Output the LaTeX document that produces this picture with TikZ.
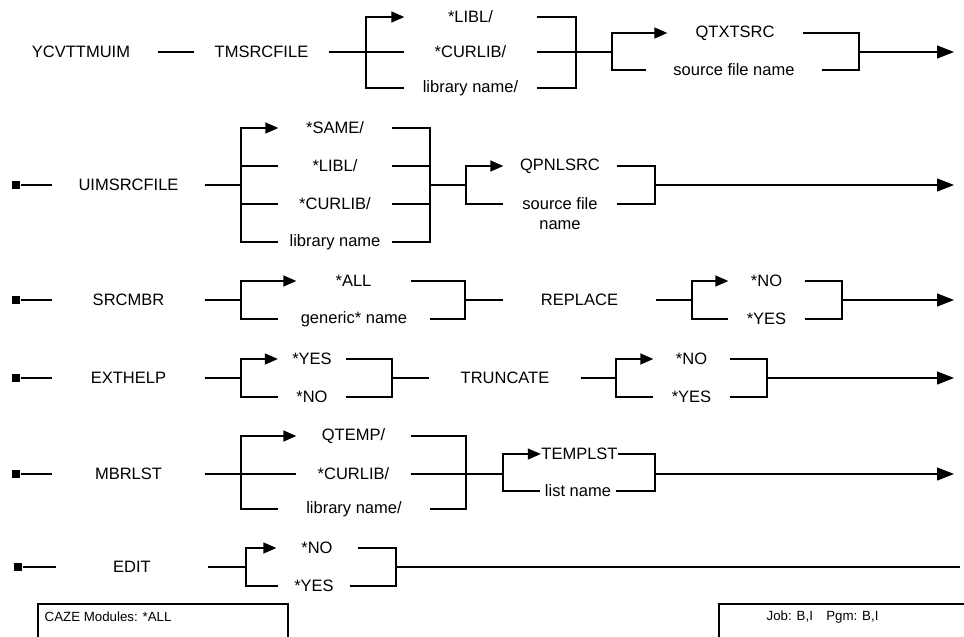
\documentclass[tikz,border=0pt]{standalone}
\usepackage{fontspec}
\setmainfont{Liberation Sans}
\usetikzlibrary{shapes,arrows.meta,positioning}

\begin{document}
\begin{tikzpicture}[x=1pt, y=-1pt, line width=1.3pt,
        word/.style={rectangle, inner sep=0pt, minimum height=20pt, align=center, font=\fontsize{16.5}{20}\selectfont},
        tiny/.style={inner sep=0pt, anchor=west, font=\fontsize{13.3}{15}\selectfont},
        stub/.style={rectangle, fill=black, minimum size=8.5pt, inner sep=0pt},
        arrow/.style={-{Triangle[length=13pt,width=11pt]}},
        bigarrow/.style={-{Triangle[length=17pt,width=13pt]}},
        frame/.style={draw, line width=2pt, minimum height=60pt, anchor=north west}
    ]
        \useasboundingbox (0,0) rectangle (964,637);
        \clip (0,0) rectangle (964,637);

        \node[word, minimum width=152pt] (ycv) at (81,52) {YCVTTMUIM};
        \node[word, minimum width=133pt] (tms) at (261.5,52) {TMSRCFILE};
        \coordinate (j1a) at (366,52);
        \node[word, minimum width=131pt] (libl1) at (470.5,17) {*LIBL/};
        \node[word, minimum width=131pt] (cur1) at (470.5,52) {*CURLIB/};
        \node[word, minimum width=131pt] (lib1) at (470.5,88) {library name/};
        \coordinate (j1b) at (576,52);
        \coordinate (j1c) at (612,52);
        \node[word, minimum width=134pt] (qtx) at (735,33) {QTXTSRC};
        \node[word, minimum width=174pt] (sfn1) at (734,70) {source file name};
        \coordinate (j1d) at (859,52);
        \coordinate (e1) at (954,52);
        \draw (ycv) -- (tms);
        \draw (tms) -- (cur1);
        \draw[arrow] (j1a) |- (libl1);
        \draw (j1a) |- (lib1);
        \draw (libl1) -| (j1b);
        \draw (lib1) -| (j1b);
        \draw (cur1) -- (j1c);
        \draw[arrow] (j1c) |- (qtx);
        \draw (j1c) |- (sfn1);
        \draw (qtx) -| (j1d);
        \draw (sfn1) -| (j1d);
        \draw[bigarrow] (j1d) -- (e1);

        \node[stub] (s2) at (16,185) {};
        \node[word, minimum width=151pt] (uim) at (128.5,185) {UIMSRCFILE};
        \coordinate (j2a) at (241,185);
        \node[word, minimum width=112pt] (same2) at (335,128) {*SAME/};
        \node[word, minimum width=112pt] (libl2) at (335,166) {*LIBL/};
        \node[word, minimum width=112pt] (cur2) at (335,204) {*CURLIB/};
        \node[word, minimum width=112pt] (lib2) at (335,242) {library name};
        \coordinate (j2b) at (430,185);
        \coordinate (j2c) at (466,185);
        \node[word, minimum width=112pt] (qpn) at (560,166) {QPNLSRC};
        \node[word, minimum width=112pt, anchor=north] (sfn2) at (560,197) {source file\\name};
        \coordinate (j2d) at (655,185);
        \coordinate (e2) at (954,185);
        \draw (s2) -- (uim);
        \draw (uim) -- (j2a);
        \draw[arrow] (j2a) |- (same2);
        \draw (j2a) |- (libl2);
        \draw (j2a) |- (cur2);
        \draw (j2a) |- (lib2);
        \draw (same2) -| (j2b);
        \draw (libl2) -| (j2b);
        \draw (cur2) -| (j2b);
        \draw (lib2) -| (j2b);
        \draw (j2b) -- (j2c);
        \draw[arrow] (j2c) |- (qpn);
        \draw (j2c) |- ([yshift=-7pt]sfn2.north west);
        \draw (qpn) -| (j2d);
        \draw ([yshift=-7pt]sfn2.north east) -| (j2d);
        \draw[bigarrow] (j2d) -- (e2);

        \node[stub] (s3) at (16,300) {};
        \node[word, minimum width=151pt] (srcmbr) at (128.5,300) {SRCMBR};
        \coordinate (j3a) at (241,300);
        \node[word, minimum width=113pt] (all3) at (353.5,281) {*ALL};
        \node[word, minimum width=150pt] (gen3) at (354,319) {generic* name};
        \coordinate (j3b) at (465,300);
        \node[word, minimum width=151pt] (repl) at (579.5,300) {REPLACE};
        \coordinate (j3c) at (692,300);
        \node[word, minimum width=75pt] (no3) at (766.5,281) {*NO};
        \node[word, minimum width=75pt] (yes3) at (766.5,319) {*YES};
        \coordinate (j3d) at (842,300);
        \coordinate (e3) at (954,300);
        \draw (s3) -- (srcmbr);
        \draw (srcmbr) -- (j3a);
        \draw[arrow] (j3a) |- (all3);
        \draw (j3a) |- (gen3);
        \draw (all3) -| (j3b);
        \draw (gen3) -| (j3b);
        \draw (j3b) -- (repl);
        \draw (repl) -- (j3c);
        \draw[arrow] (j3c) |- (no3);
        \draw (j3c) |- (yes3);
        \draw (no3) -| (j3d);
        \draw (yes3) -| (j3d);
        \draw[bigarrow] (j3d) -- (e3);

        \node[stub] (s4) at (16,378) {};
        \node[word, minimum width=151pt] (exth) at (128.5,378) {EXTHELP};
        \coordinate (j4a) at (241,378);
        \node[word, minimum width=67pt] (yes4) at (312,359) {*YES};
        \node[word, minimum width=67pt] (no4) at (312,397) {*NO};
        \coordinate (j4b) at (392,378);
        \node[word, minimum width=150pt] (trunc) at (505,378) {TRUNCATE};
        \coordinate (j4c) at (616,378);
        \node[word, minimum width=75pt] (no4b) at (691.5,359) {*NO};
        \node[word, minimum width=75pt] (yes4b) at (691.5,397) {*YES};
        \coordinate (j4d) at (767,378);
        \coordinate (e4) at (954,378);
        \draw (s4) -- (exth);
        \draw (exth) -- (j4a);
        \draw[arrow] (j4a) |- (yes4);
        \draw (j4a) |- (no4);
        \draw (yes4) -| (j4b);
        \draw (no4) -| (j4b);
        \draw (j4b) -- (trunc);
        \draw (trunc) -- (j4c);
        \draw[arrow] (j4c) |- (no4b);
        \draw (j4c) |- (yes4b);
        \draw (no4b) -| (j4d);
        \draw (yes4b) -| (j4d);
        \draw[bigarrow] (j4d) -- (e4);

        \node[stub] (s5) at (16,474) {};
        \node[word, minimum width=151pt] (mbrl) at (128.5,474) {MBRLST};
        \coordinate (j5a) at (241,474);
        \node[word, minimum width=113pt] (qtemp) at (353.5,436) {QTEMP/};
        \node[word, minimum width=113pt] (cur5) at (353.5,474) {*CURLIB/};
        \node[word, minimum width=150pt] (lib5) at (354,509) {library name/};
        \coordinate (j5b) at (466,474);
        \coordinate (j5c) at (503,474);
        \node[word, minimum width=75pt] (tmpl) at (579.5,454) {TEMPLST};
        \node[word, minimum width=74pt] (lname) at (578,491) {list name};
        \coordinate (j5d) at (655,474);
        \coordinate (e5) at (954,474);
        \draw (s5) -- (mbrl);
        \draw (mbrl) -- (cur5);
        \draw[arrow] (j5a) |- (qtemp);
        \draw (j5a) |- (lib5);
        \draw (qtemp) -| (j5b);
        \draw (lib5) -| (j5b);
        \draw (cur5) -- (j5c);
        \draw[arrow] (j5c) |- (tmpl);
        \draw (j5c) |- (lname);
        \draw (tmpl) -| (j5d);
        \draw (lname) -| (j5d);
        \draw[bigarrow] (j5d) -- (e5);

        \node[stub] (s6) at (18,567) {};
        \node[word, minimum width=150pt] (edit) at (132,567) {EDIT};
        \coordinate (j6a) at (246,567);
        \node[word, minimum width=80pt] (no6) at (317,548) {*NO};
        \node[word, minimum width=70pt] (yes6) at (314,586) {*YES};
        \coordinate (j6b) at (396,567);
        \coordinate (e6) at (960,567);
        \draw (s6) -- (edit);
        \draw (edit) -- (j6a);
        \draw[arrow] (j6a) |- (no6);
        \draw (j6a) |- (yes6);
        \draw (no6) -| (j6b);
        \draw (yes6) -| (j6b);
        \draw (j6b) -- (e6);

        \node[frame, minimum width=250pt] (modbox) at (37,603) {};
        \node[tiny] (modtxt) at (44,617) {CAZE Modules: *ALL};
        \node[frame, minimum width=300pt] (jobbox) at (718,603) {};
        \node[tiny] (jobtxt) at (766,617) {Job: B,I\quad Pgm: B,I};
    \end{tikzpicture}
\end{document}
